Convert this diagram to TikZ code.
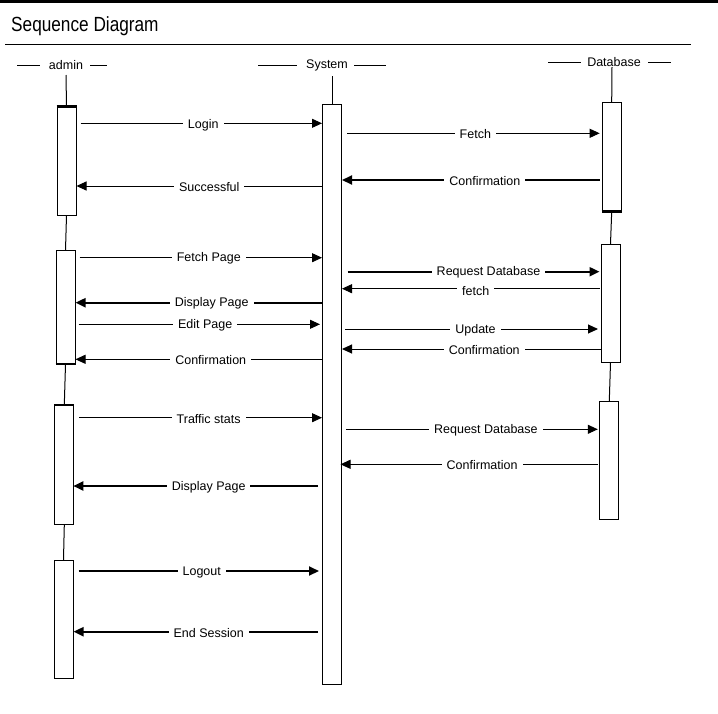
\documentclass[tikz,border=0pt]{standalone}
\usepackage{fontspec}
\setmainfont{Liberation Sans}
\newfontfamily\titlefont{Liberation Sans}[FakeStretch=0.84]
\usetikzlibrary{arrows.meta}
\begin{document}
\begin{tikzpicture}[x=1pt,y=-1pt,
  actbox/.style={draw, line width=1pt, fill=white, inner sep=0pt, minimum width=19pt},
  lifeline/.style={line width=1pt},
  headline/.style={line width=1pt},
  msg/.style={line width=1pt, -{Triangle[length=10pt,width=9pt]}},
  msgb/.style={line width=2pt, -{Triangle[length=10pt,width=9pt]}},
  lbl/.style={fill=white, inner xsep=5pt, inner ysep=1pt, font=\fontsize{12.5}{14}\selectfont},
  head/.style={font=\fontsize{12.5}{14}\selectfont, inner sep=0pt},
  thickedge/.style={line width=2.2pt}
]
\useasboundingbox (0,0) rectangle (718,713);
\fill[white] (0,0) rectangle (718,713);
\fill[black] (0,0) rectangle (718,3);
% title
\node[anchor=base west, inner sep=0pt, font=\titlefont\fontsize{20.5}{22}\selectfont] (title) at (11,31.5) {Sequence Diagram};
\draw[line width=1pt] (5,44) -- (691,44);
% heads
\node[head] (hA) at (66,65) {admin};
\node[head] (hS) at (327,65) {System};
\node[head] (hD) at (614,62) {Database};
\draw[headline] (17,65) -- (40,65);
\draw[headline] (90,65) -- (107,65);
\draw[headline] (258,65) -- (297,65);
\draw[headline] (354,65) -- (386,65);
\draw[headline] (548,62) -- (581,62);
\draw[headline] (648,62) -- (671,62);
% activation boxes
\node[actbox, minimum height=108pt] (a1) at (66.5,161) {};
\node[actbox, minimum height=113pt] (a2) at (65.5,307.3) {};
\node[actbox, minimum height=118.6pt] (a3) at (64.3,465) {};
\node[actbox, minimum height=118pt] (a4) at (63.5,619.3) {};
\node[actbox, minimum height=580pt] (s1) at (332,394.3) {};
\node[actbox, minimum height=108.7pt] (d1) at (611.7,156.7) {};
\node[actbox, minimum height=118pt] (d2) at (610.5,303.3) {};
\node[actbox, minimum height=118pt] (d3) at (609.3,460.3) {};
% thick edges
\draw[thickedge] (a1.north west) -- (a1.north east);
\draw[thickedge] (a2.south west) -- (a2.south east);
\draw[thickedge] (a3.north west) -- (a3.north east);
\draw[thickedge] (d1.south west) -- (d1.south east);
% lifelines
\coordinate (tA) at (66,75);
\coordinate (tS) at (332,76);
\coordinate (tD) at (612,67);
\draw[lifeline] (tA) -- (a1.north);
\draw[lifeline] (a1.south) -- (a2.north);
\draw[lifeline] (a2.south) -- (a3.north);
\draw[lifeline] (a3.south) -- (a4.north);
\draw[lifeline] (tS) -- (s1.north);
\draw[lifeline] (tD) -- (d1.north);
\draw[lifeline] (d1.south) -- (d2.north);
\draw[lifeline] (d2.south) -- (d3.north);
% message levels
\coordinate (y1) at (0,123.3);
\coordinate (y2) at (0,186);
\coordinate (y3) at (0,133.3);
\coordinate (y4) at (0,180);
\coordinate (y5) at (0,257.7);
\coordinate (y6) at (0,271.7);
\coordinate (y7) at (0,288.7);
\coordinate (y8) at (0,302.7);
\coordinate (y9) at (0,324.3);
\coordinate (y10) at (0,329);
\coordinate (y11) at (0,349);
\coordinate (y12) at (0,359.3);
\coordinate (y13) at (0,417.7);
\coordinate (y14) at (0,429.3);
\coordinate (y15) at (0,464.3);
\coordinate (y16) at (0,486);
\coordinate (y17) at (0,571);
\coordinate (y18) at (0,631.7);
% messages
\draw[msg] ([xshift=4pt]a1.east |- y1) -- (s1.west |- y1) node[lbl, midway, xshift=2pt, yshift=-1.5pt] {Login};
\draw[msg] (s1.west |- y2) -- (a1.east |- y2) node[lbl, midway, xshift=10pt, yshift=-1pt] {Successful};
\draw[msg] ([xshift=5pt]s1.east |- y3) -- ([xshift=-2pt]d1.west |- y3) node[lbl, midway, xshift=2pt, yshift=-1pt] {Fetch};
\draw[msgb] ([xshift=-2pt]d1.west |- y4) -- (s1.east |- y4) node[lbl, midway, xshift=14pt, yshift=-1pt] {Confirmation};
\draw[msg] ([xshift=4pt]a2.east |- y5) -- (s1.west |- y5) node[lbl, midway, xshift=8pt, yshift=-1pt] {Fetch Page};
\draw[msgb] ([xshift=5.5pt]s1.east |- y6) -- ([xshift=-1pt]d2.west |- y6) node[lbl, midway, xshift=15pt, yshift=-1pt] {Request Database};
\draw[msg] ([xshift=-1pt]d2.west |- y7) -- (s1.east |- y7) node[lbl, midway, xshift=5pt, yshift=-2pt, inner ysep=0pt] {fetch};
\draw[msgb] (s1.west |- y8) -- (a2.east |- y8) node[lbl, midway, xshift=13pt, yshift=-1pt] {Display Page};
\draw[msg] ([xshift=3pt]a2.east |- y9) -- ([xshift=-2pt]s1.west |- y9) node[lbl, midway, xshift=6pt, yshift=-1pt, inner ysep=0pt] {Edit Page};
\draw[msg] ([xshift=3pt]s1.east |- y10) -- ([xshift=-2.5pt]d2.west |- y10) node[lbl, midway, xshift=4pt, yshift=-1pt] {Update};
\draw[msg] (d2.west |- y11) -- (s1.east |- y11) node[lbl, midway, xshift=13pt, yshift=-1pt, inner ysep=0pt] {Confirmation};
\draw[msg] (s1.west |- y12) -- (a2.east |- y12) node[lbl, midway, xshift=12pt, yshift=-1pt] {Confirmation};
\draw[msg] ([xshift=5pt]a3.east |- y13) -- (s1.west |- y13) node[lbl, midway, xshift=8pt, yshift=-1pt] {Traffic stats};
\draw[msg] ([xshift=4pt]s1.east |- y14) -- ([xshift=-1.5pt]d3.west |- y14) node[lbl, midway, xshift=14pt, yshift=-1pt] {Request Database};
\draw[msg] ([xshift=-1.5pt]d3.west |- y15) -- ([xshift=-1.5pt]s1.east |- y15) node[lbl, midway, xshift=13pt, yshift=-1pt] {Confirmation};
\draw[msgb] ([xshift=-4pt]s1.west |- y16) -- ([xshift=-1pt]a3.east |- y16) node[lbl, midway, xshift=13pt, yshift=-1pt] {Display Page};
\draw[msgb] ([xshift=5pt]a4.east |- y17) -- ([xshift=-3pt]s1.west |- y17) node[lbl, midway, xshift=3pt, yshift=-1pt] {Logout};
\draw[msgb] ([xshift=-4pt]s1.west |- y18) -- (a4.east |- y18) node[lbl, midway, xshift=13pt, yshift=-1pt] {End Session};
\end{tikzpicture}
\end{document}
